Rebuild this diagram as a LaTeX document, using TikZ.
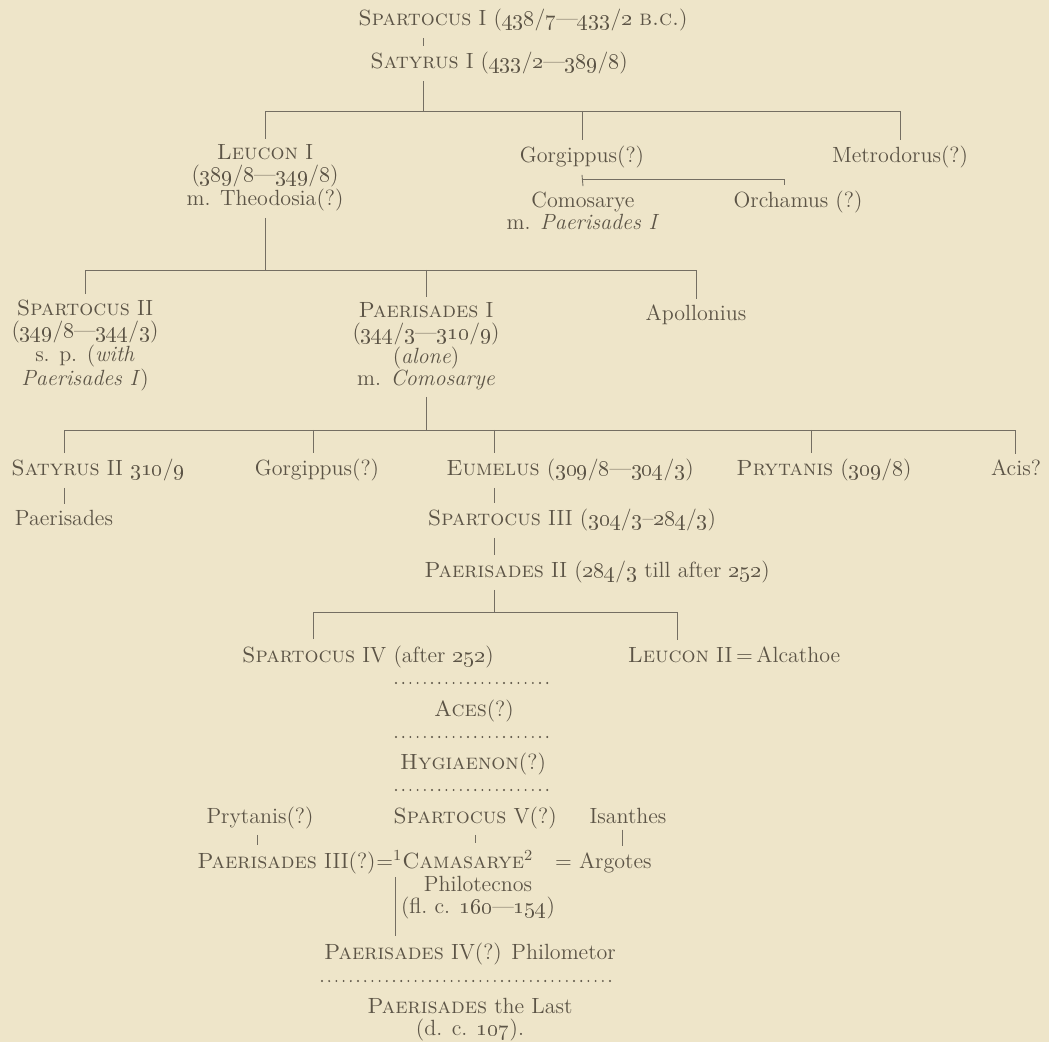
\documentclass[tikz,border=0pt]{standalone}
\usepackage{amsmath}
\usetikzlibrary{calc, positioning}

\definecolor{paper}{RGB}{238,229,201}
\definecolor{ink}{RGB}{92,84,70}
\newcommand{\os}[1]{\oldstylenums{#1}}
\newcommand{\yr}[2]{\os{#1}/\os{#2}}

\begin{document}
\begin{tikzpicture}[x=0.5pt, y=-0.5pt,
  every node/.style={text=ink, font=\fontsize{11}{11}\selectfont, inner xsep=0pt, inner ysep=3pt},
  person/.style={anchor=base},
  kin/.style={draw=ink!85, line width=0.45pt},
  gap/.style={draw=ink, line width=1.05pt, line cap=round, dash pattern=on 0pt off 3.6pt}]

\fill[paper] (0,0) rectangle (1049,1042);
\useasboundingbox (0,0) rectangle (1049,1042);

% multi-line nodes sit on the baseline of their last line
\node[person] (sparI) at (523,26) {\textsc{Spartocus} I (\yr{438}{7}---\yr{433}{2} \textsc{b.c.})};
\node[person] (satI) at (499,69) {\textsc{Satyrus} I (\yr{433}{2}---\yr{389}{8})};

\node[person, align=center] (leuI) at (265,206) {\textsc{Leucon} I\\(\yr{389}{8}---\yr{349}{8})\\m. Theodosia(?)};
\node[person] (gorA) at (582,163) {Gorgippus(?)};
\node[person] (metr) at (900,163) {Metrodorus(?)};
\node[person, align=center] (comA) at (583,230) {Comosarye\\m. \textit{Paerisades I}};
\node[person] (orch) at (798,208) {Orchamus (?)};

\node[person, align=center] (sparII) at (85,386) {\textsc{Spartocus} II\\(\yr{349}{8}---\yr{344}{3})\\s. p. (\textit{with}\\\textit{Paerisades I})};
\node[person, align=center] (paeI) at (426,386) {\textsc{Paerisades} I\\(\yr{344}{3}---\yr{310}{9})\\(\textit{alone})\\m. \textit{Comosarye}};
\node[person] (apol) at (696,321) {Apollonius};

\node[person] (satII) at (98,476) {\textsc{Satyrus} II \yr{310}{9}};
\node[person] (gorB) at (317,476) {Gorgippus(?)};
\node[person] (eume) at (570,476) {\textsc{Eumelus} (\yr{309}{8}---\yr{304}{3})};
\node[person] (prytA) at (824,476) {\textsc{Prytanis} (\yr{309}{8})};
\node[person] (acis) at (1016,476) {Acis?};
\node[person] (paeA) at (64,526) {Paerisades};
\node[person] (sparIII) at (572,526) {\textsc{Spartocus} III (\yr{304}{3}--\yr{284}{3})};
\node[person] (paeII) at (597,578) {\textsc{Paerisades} II (\yr{284}{3} till after \os{252})};

\node[person] (sparIV) at (368,662) {\textsc{Spartocus} IV (after \os{252})};
\node[person] (leuII) at (734,662) {\textsc{Leucon} II\,=\,Alcathoe};
\node[person] (aces) at (474,716) {\textsc{Aces}(?)};
\node[person] (hygi) at (473,769) {\textsc{Hygiaenon}(?)};

\node[person] (prytB) at (260,823) {Prytanis(?)};
\node[person] (sparV) at (475,823) {\textsc{Spartocus} V(?)};
\node[person] (isan) at (628,823) {Isanthes};
\node[person, anchor=base east] (paeIII) at (376,868) {\textsc{Paerisades} III(?)};
\node[person, anchor=base west] (cama) at (paeIII.base east) {=\textsuperscript{1}\textsc{Camasarye}\textsuperscript{2}};
\node[person, anchor=base east] (argo) at (652,868) {= Argotes};
\node[person, align=center] (phil) at (478,913) {Philotecnos\\(fl.\ c. \os{160}---\os{154})};
\node[person] (paeIV) at (470,959) {\textsc{Paerisades} IV(?) Philometor};
\node[person, align=center] (paeL) at (470,1035) {\textsc{Paerisades} the Last\\(d. c. \os{107}).};

\coordinate (b1) at (423,111);
\draw[kin] (sparI.south -| b1) -- (satI.north -| b1);
\draw[kin] (satI.south -| b1) -- (b1);
\draw[kin] (leuI.north) -- (leuI.north |- b1) -- (metr.north |- b1) -- (metr.north);
\draw[kin] (gorA.north |- b1) -- (gorA.north);

\coordinate (b2) at (784,179);
\draw[kin] (gorA.south) -- (comA.north);
\draw[kin] (gorA.south |- b2) -- (b2) -- (b2 |- orch.north);

\coordinate (b3) at (265,270);
\draw[kin] (leuI.south) -- (b3);
\draw[kin] (sparII.north) -- (sparII.north |- b3) -- (apol.north |- b3) -- (apol.north);
\draw[kin] (paeI.north |- b3) -- (paeI.north);

\coordinate (b4) at (426,430);
\coordinate (t1) at (64,430);
\coordinate (t2) at (313,430);
\coordinate (t3) at (494,430);
\coordinate (t4) at (811,430);
\coordinate (t5) at (1015,430);
\draw[kin] (paeI.south) -- (b4);
\draw[kin] (t1 |- satII.north) -- (t1) -- (t5) -- (t5 |- acis.north);
\draw[kin] (t2) -- (t2 |- gorB.north);
\draw[kin] (t3) -- (t3 |- eume.north);
\draw[kin] (t4) -- (t4 |- prytA.north);
\draw[kin] (t1 |- satII.south) -- (paeA.north);
\draw[kin] (t3 |- eume.south) -- (t3 |- sparIII.north);
\draw[kin] (t3 |- sparIII.south) -- (t3 |- paeII.north);

\coordinate (b5) at (494,612);
\coordinate (t6) at (313,612);
\coordinate (t7) at (677,612);
\draw[kin] (t3 |- paeII.south) -- (b5);
\draw[kin] (t6 |- sparIV.north) -- (t6) -- (t7) -- (t7 |- leuII.north);

\foreach \y in {683,737,790}
  \draw[gap] (396,\y) -- (552,\y);
\draw[gap] (322,981) -- (615,981);

\coordinate (t8) at (257,850);
\coordinate (t9) at (622,850);
\coordinate (mar) at (395,877);
\draw[kin] (t8 |- prytB.south) -- (t8 |- paeIII.north);
\draw[kin] (sparV.south) -- (sparV.south |- cama.north);
\draw[kin] (t9 |- isan.south) -- (t9 |- argo.north);
\draw[kin] (mar) -- (mar |- paeIV.north);
\end{tikzpicture}
\end{document}
